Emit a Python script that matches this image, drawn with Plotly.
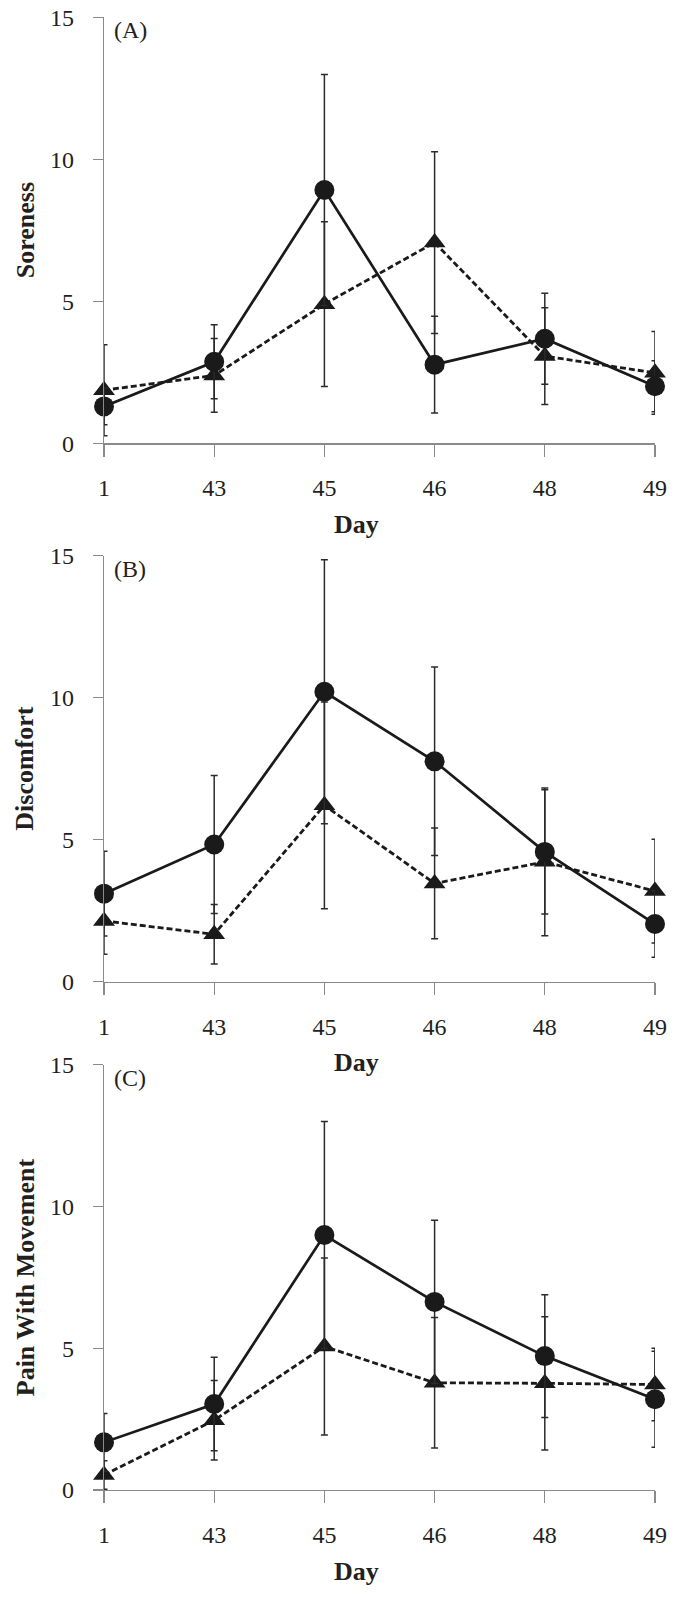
import plotly.graph_objects as go

# ---------------- data ----------------
days = ["1", "43", "45", "46", "48", "49"]
y_ticks = [0, 5, 10, 15]

soreness_circle = [1.30, 2.87, 8.92, 2.77, 3.68, 2.01]
soreness_circle_err = [0.65, 1.30, 4.07, 1.70, 1.60, 0.90]
soreness_triangle = [1.87, 2.39, 4.90, 7.07, 3.07, 2.48]
soreness_triangle_err = [1.60, 1.30, 2.90, 3.20, 1.70, 1.46]

discomfort_circle = [3.10, 4.83, 10.21, 7.76, 4.57, 2.03]
discomfort_circle_err = [1.49, 2.43, 4.65, 3.32, 2.19, 1.17]
discomfort_triangle = [2.14, 1.67, 6.21, 3.46, 4.22, 3.19]
discomfort_triangle_err = [1.17, 1.05, 3.64, 1.95, 2.60, 1.83]

pain_circle = [1.68, 3.03, 8.99, 6.63, 4.72, 3.20]
pain_circle_err = [1.02, 1.65, 4.00, 2.88, 2.16, 1.69]
pain_triangle = [0.53, 2.46, 5.06, 3.78, 3.76, 3.72]
pain_triangle_err = [0.50, 1.40, 3.12, 2.30, 2.35, 1.28]

panels = [
    ("(A)", "Soreness", soreness_circle, soreness_circle_err, soreness_triangle, soreness_triangle_err),
    ("(B)", "Discomfort", discomfort_circle, discomfort_circle_err, discomfort_triangle, discomfort_triangle_err),
    ("(C)", "Pain With Movement", pain_circle, pain_circle_err, pain_triangle, pain_triangle_err),
]

# ---------------- layout geometry (pixels) ----------------
W, H = 677, 1598
X0, X1 = 104, 655
panel_px = [(17.3, 443.3), (555.7, 981.7), (1064.5, 1490.0)]  # (top, bottom)

FONT = "Liberation Serif, Times New Roman, serif"
TXT = "#231f20"
AXC = "#8a8a8a"
INK = "#1a1a1a"

fig = go.Figure()
layout = dict(
    width=W, height=H,
    margin=dict(l=0, r=0, t=0, b=0, autoexpand=False),
    paper_bgcolor="white", plot_bgcolor="white",
    showlegend=False,
    font=dict(family=FONT, size=24, color=TXT),
)
annotations = []

for i, (lab, title, yc, ec, yt, et) in enumerate(panels):
    n = "" if i == 0 else str(i + 1)
    xa, ya = "x" + n, "y" + n
    top, bot = panel_px[i]
    dom_y = [1 - bot / H, 1 - top / H]

    # triangles (dashed) first, circles (solid) on top
    fig.add_trace(go.Scatter(
        x=days, y=yt, xaxis=xa, yaxis=ya, mode="lines+markers",
        line=dict(color=INK, width=2.8, dash="6px,3px"),
        marker=dict(symbol="triangle-up", size=19, color=INK),
        error_y=dict(type="data", array=et, visible=True, color="#2b2b2b", thickness=1.5, width=3.5),
        cliponaxis=False,
    ))
    fig.add_trace(go.Scatter(
        x=days, y=yc, xaxis=xa, yaxis=ya, mode="lines+markers",
        line=dict(color=INK, width=2.7),
        marker=dict(symbol="circle", size=20, color=INK),
        error_y=dict(type="data", array=ec, visible=True, color="#2b2b2b", thickness=1.5, width=3.5),
        cliponaxis=False,
    ))

    layout["xaxis" + n] = dict(
        domain=[X0 / W, X1 / W], anchor=ya, type="category",
        categoryorder="array", categoryarray=days, automargin=False,
        range=[0, len(days) - 1], showgrid=False, zeroline=False,
        showline=True, linecolor=AXC, linewidth=1.3,
        ticks="outside", ticklen=12, tickwidth=1.3, tickcolor=AXC,
        tickfont=dict(family=FONT, size=24, color=TXT), ticklabelstandoff=11,
    )
    layout["yaxis" + n] = dict(
        domain=dom_y, anchor=xa, range=[0, 15], tickvals=y_ticks, automargin=False,
        showgrid=False, zeroline=False,
        showline=True, linecolor=AXC, linewidth=1.3,
        ticks="outside", ticklen=10, tickwidth=1.3, tickcolor=AXC,
        tickfont=dict(family=FONT, size=24, color=TXT), ticklabelstandoff=14,
    )

    # y-axis title
    annotations.append(dict(
        text="<b>%s</b>" % title, xref="paper", yref="paper",
        x=25 / W, y=1 - ((top + bot) / 2) / H, textangle=-90,
        showarrow=False, xanchor="center", yanchor="middle",
        font=dict(family=FONT, size=26, color=TXT),
    ))
    # x-axis title
    annotations.append(dict(
        text="<b>Day</b>", xref="paper", yref="paper",
        x=356 / W, y=1 - (bot + 81) / H,
        showarrow=False, xanchor="center", yanchor="middle",
        font=dict(family=FONT, size=26, color=TXT),
    ))
    # panel label
    annotations.append(dict(
        text=lab, xref="paper", yref="paper",
        x=112 / W, y=1 - (top + 13) / H,
        showarrow=False, xanchor="left", yanchor="middle",
        font=dict(family=FONT, size=24, color=TXT),
    ))

layout["annotations"] = annotations
fig.update_layout(**layout)
fig.write_html(
    "out.html",
    config={"displayModeBar": False, "staticPlot": True},
    post_script="document.body.style.margin='0';document.body.style.overflow='hidden';",
)
